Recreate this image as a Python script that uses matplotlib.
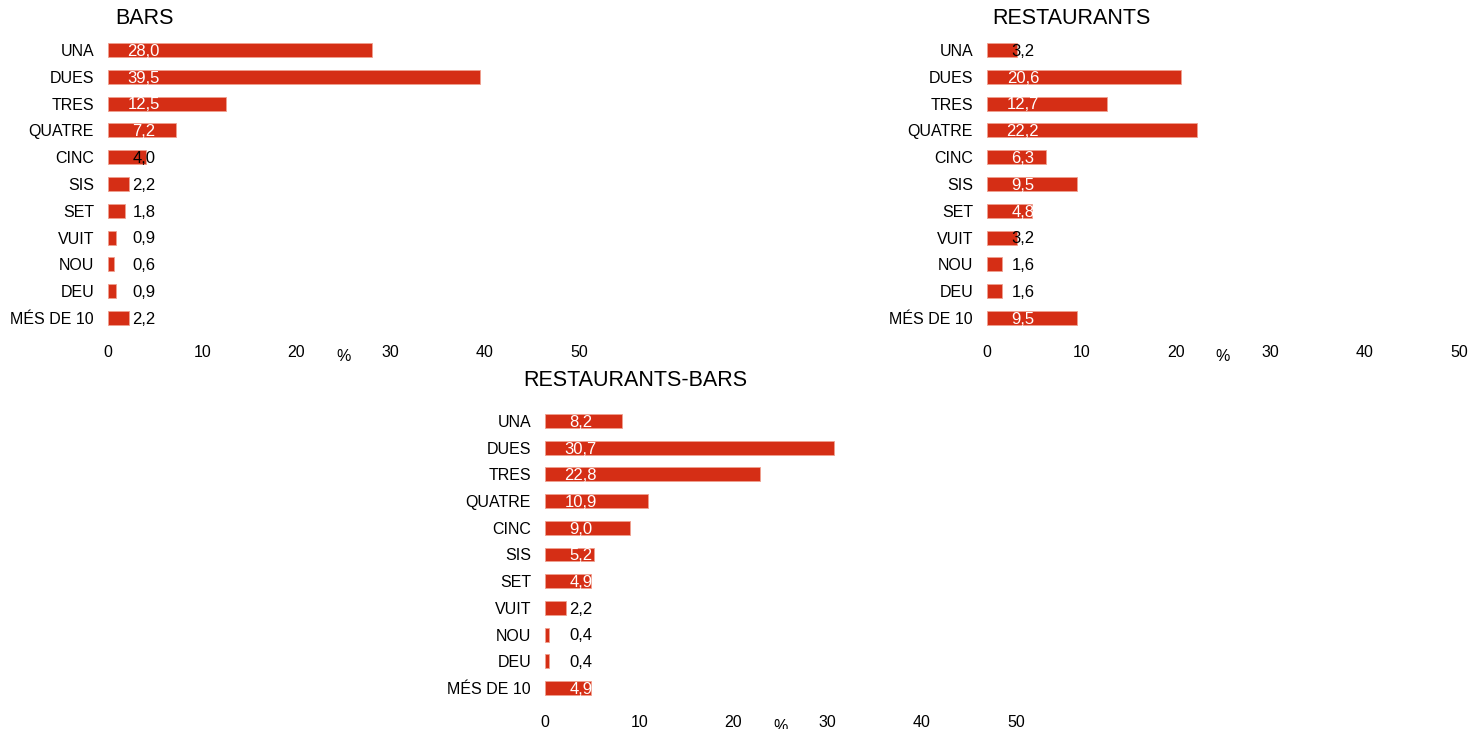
import matplotlib
matplotlib.use("Agg")
import matplotlib.pyplot as plt

plt.rcParams['font.family'] = ['Liberation Sans', 'DejaVu Sans']

categories = ['UNA', 'DUES', 'TRES', 'QUATRE', 'CINC', 'SIS', 'SET',
              'VUIT', 'NOU', 'DEU', 'MÉS DE 10']
bars = [28.0, 39.5, 12.5, 7.2, 4.0, 2.2, 1.8, 0.9, 0.6, 0.9, 2.2]
restaurants = [3.2, 20.6, 12.7, 22.2, 6.3, 9.5, 4.8, 3.2, 1.6, 1.6, 9.5]
rest_bars = [8.2, 30.7, 22.8, 10.9, 9.0, 5.2, 4.9, 2.2, 0.4, 0.4, 4.9]
xticks = [0, 10, 20, 30, 40, 50]

W, H = 1468, 729
fig = plt.figure(figsize=(W / 100, H / 100), dpi=100)

bar_color = '#d52e15'


def px_axes(x0, x50, y_first, y_last):
    # axes placed from pixel positions of x=0, x=50 and first/last row centres
    step = (y_last - y_first) / 10
    top = y_first - 0.75 * step
    bottom = y_last + 0.75 * step
    return fig.add_axes([x0 / W, 1 - bottom / H, (x50 - x0) / W, (bottom - top) / H])


def draw(ax, values, title, title_x, title_y):
    y = range(len(categories))
    ax.barh(y, values, height=0.52, color=bar_color, edgecolor='#f0a090', linewidth=0.6)
    ax.set_xlim(0, 50)
    ax.set_ylim(10.75, -0.75)
    ax.set_yticks(list(y))
    ax.set_yticklabels(categories, fontsize=11.5)
    ax.set_xticks(xticks)
    ax.set_xticklabels([str(t) for t in xticks], fontsize=11.5)
    ax.tick_params(axis='y', length=0, pad=10)
    ax.tick_params(axis='x', length=0, pad=5)
    for s in ax.spines.values():
        s.set_visible(False)
    for i, v in enumerate(values):
        txt = f"{v:.1f}".replace('.', ',')
        ax.text(3.8, i + 0.05, txt, ha='center', va='center', fontsize=12,
                color='white' if v >= 4.5 else 'black')
    ax.text(0.5, -0.035, '%', transform=ax.transAxes, ha='center', va='top', fontsize=11.5)
    fig.text(title_x / W, 1 - title_y / H, title, ha='left', va='center', fontsize=15.5)


ax1 = px_axes(108, 579, 50, 318)
draw(ax1, bars, 'BARS', 115, 19)

ax2 = px_axes(987, 1459, 50, 318)
draw(ax2, restaurants, 'RESTAURANTS', 992, 19)

ax3 = px_axes(545, 1016, 421, 688)
draw(ax3, rest_bars, 'RESTAURANTS-BARS', 523, 380)

fig.savefig('out.png', dpi=100)
